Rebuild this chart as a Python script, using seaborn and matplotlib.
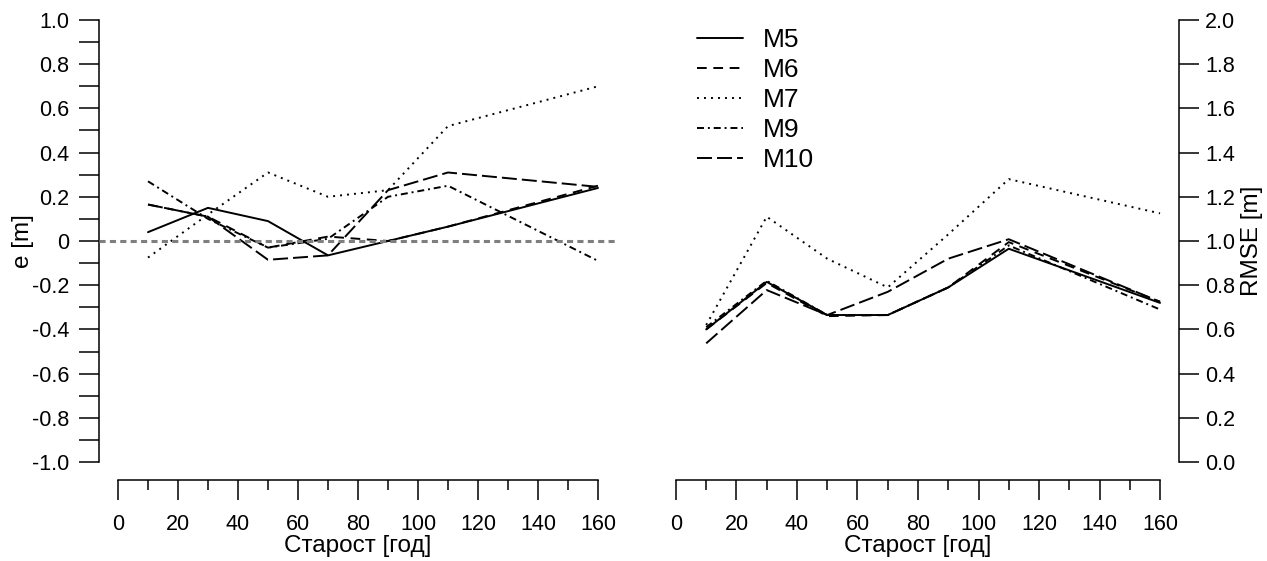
import numpy as np
import pandas as pd
import matplotlib
matplotlib.use("Agg")
import matplotlib.pyplot as plt
import seaborn as sns
from matplotlib.lines import Line2D
from matplotlib.ticker import MultipleLocator, FixedLocator

# Stand age classes [years]
age = [10, 30, 50, 70, 90, 110, 160]
models = ["M5", "M6", "M7", "M9", "M10"]

# Mean error e [m] per model
e_m5 = [0.04, 0.15, 0.09, -0.065, 0.0, 0.065, 0.24]
e_m6 = [0.165, 0.11, -0.03, 0.02, 0.0, 0.065, 0.25]
e_m7 = [-0.075, 0.12, 0.31, 0.20, 0.23, 0.52, 0.70]
e_m9 = [0.27, 0.10, -0.03, 0.01, 0.20, 0.25, -0.09]
e_m10 = [0.165, 0.11, -0.085, -0.065, 0.23, 0.31, 0.245]

# RMSE [m] per model
rmse_m5 = [0.60, 0.815, 0.665, 0.665, 0.79, 0.965, 0.72]
rmse_m6 = [0.60, 0.81, 0.66, 0.665, 0.79, 0.995, 0.725]
rmse_m7 = [0.62, 1.11, 0.92, 0.79, 1.03, 1.28, 1.125]
rmse_m9 = [0.61, 0.82, 0.665, 0.665, 0.79, 0.98, 0.69]
rmse_m10 = [0.537, 0.778, 0.665, 0.77, 0.92, 1.008, 0.725]

e_values = [e_m5, e_m6, e_m7, e_m9, e_m10]
rmse_values = [rmse_m5, rmse_m6, rmse_m7, rmse_m9, rmse_m10]

err = pd.DataFrame({
    "age": age * len(models),
    "model": np.repeat(models, len(age)),
    "value": np.concatenate(e_values),
})
rmse = pd.DataFrame({
    "age": age * len(models),
    "model": np.repeat(models, len(age)),
    "value": np.concatenate(rmse_values),
})

sns.set_theme(style="ticks", rc={
    "axes.edgecolor": "black", "xtick.color": "black", "ytick.color": "black",
    "text.color": "black", "axes.labelcolor": "black",
})
plt.rcParams["font.family"] = ["Liberation Sans", "DejaVu Sans"]

LW = 1.4
dash_styles = {"M5": "", "M6": (5, 3.4), "M7": (1, 2.6),
               "M9": (3.6, 2, 1, 2), "M10": (7.7, 2.6)}
FS = 15.5
FS_LAB = 17.5
FS_LEG = 19
SP_W = 1.1

fig = plt.figure(figsize=(12.67, 5.61), dpi=100)
ax1 = fig.add_axes([0.07798, 0.14492, 0.40916, 0.85098])
ax2 = fig.add_axes([0.51823, 0.14492, 0.41263, 0.85098])

for ax, data in ((ax1, err), (ax2, rmse)):
    sns.lineplot(data=data, x="age", y="value", style="model", style_order=models,
                 dashes=dash_styles, color="black", lw=LW, estimator=None,
                 legend=False, ax=ax)
    ax.set_xlim(-6.4, 166.4)
    ax.spines["top"].set_visible(False)
    ax.spines["bottom"].set_bounds(0, 160)
    for s in ax.spines.values():
        s.set_linewidth(SP_W)
    ax.xaxis.set_major_locator(MultipleLocator(20))
    ax.xaxis.set_minor_locator(MultipleLocator(10))
    ax.tick_params(axis="x", which="major", length=14.4, width=SP_W,
                   direction="out", pad=10, labelsize=FS)
    ax.tick_params(axis="x", which="minor", length=7.2, width=SP_W, direction="out")
    ax.set_xlabel("Старост [год]", fontsize=FS_LAB, labelpad=0)

# Left panel: mean error
ax1.axhline(0, color="#7f7f7f", lw=2.2, dashes=(2, 1.4), zorder=5)
ax1.set_ylim(-1.08, 1.08)
ax1.spines["right"].set_visible(False)
ax1.spines["left"].set_bounds(-1, 1)
yt = np.round(np.arange(-10, 11) / 10, 1)
ax1.yaxis.set_major_locator(FixedLocator(yt))
ax1.set_yticklabels(["0" if v == 0 else (f"{v:.1f}" if int(round(v * 10)) % 2 == 0 else "")
                     for v in yt])
ax1.tick_params(axis="y", length=14.4, width=SP_W, direction="out", pad=7, labelsize=FS)
ax1.set_ylabel("e [m]", fontsize=FS_LAB, labelpad=-2)

# Right panel: RMSE
ax2.set_ylim(-0.08, 2.08)
ax2.spines["left"].set_visible(False)
ax2.spines["right"].set_bounds(0, 2)
ax2.yaxis.tick_right()
ax2.yaxis.set_label_position("right")
yt2 = np.round(np.arange(0, 11) * 0.2, 1)
ax2.yaxis.set_major_locator(FixedLocator(yt2))
ax2.set_yticklabels([f"{v:.1f}" for v in yt2])
ax2.tick_params(axis="y", length=14.4, width=SP_W, direction="out", pad=4, labelsize=FS)
ax2.set_ylabel("RMSE [m]", fontsize=FS_LAB, labelpad=4)

handles = []
for m in models:
    d = dash_styles[m]
    if d == "":
        handles.append(Line2D([], [], color="black", lw=LW, linestyle="-"))
    else:
        handles.append(Line2D([], [], color="black", lw=LW, dashes=d))
fig.legend(handles, models, loc="upper left", bbox_to_anchor=(697 / 1267, 1 - 28 / 561),
           frameon=False, fontsize=FS_LEG, handlelength=1.75, handletextpad=0.75,
           labelspacing=0.23, borderpad=0, borderaxespad=0)

fig.savefig("out.png", dpi=100)
